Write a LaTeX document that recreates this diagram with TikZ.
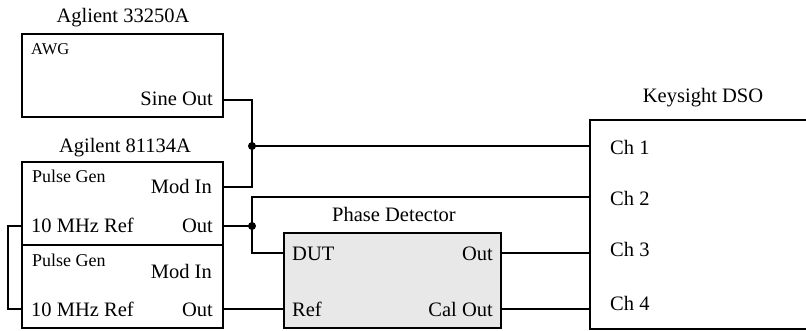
\documentclass[tikz,border=0pt]{standalone}
\usepackage{fontspec}
\setmainfont{Liberation Serif}
\definecolor{pdgray}{HTML}{E8E8E8}
\begin{document}
\begin{tikzpicture}[x=1pt,y=-1pt,
  box/.style={draw,line width=1.8pt,inner sep=0pt,outer sep=0pt},
  wire/.style={line width=1.5pt},
  lbl/.style={inner sep=0pt,font=\fontsize{20.5}{24}\selectfont},
  slbl/.style={inner sep=0pt,font=\fontsize{18}{21}\selectfont},
  tlbl/.style={inner sep=0pt,font=\fontsize{16.5}{19}\selectfont},
  dot/.style={circle,fill,inner sep=0pt,minimum size=8pt}]
\useasboundingbox (0,0) rectangle (806,331);
\clip (0,0) rectangle (806,331);
% boxes
\node[box,minimum width=201pt,minimum height=83pt] (awg) at (122.5,75.5) {};
\node[box,minimum width=201pt,minimum height=83pt] (pg1) at (122.5,203.5) {};
\node[box,minimum width=201pt,minimum height=83pt] (pg2) at (122.5,286.5) {};
\node[box,fill=pdgray,minimum width=217pt,minimum height=95pt] (pd) at (392.5,280.5) {};
\node[box,minimum width=240pt,minimum height=209pt] (dso) at (710,224.5) {};
% titles
\node[lbl,anchor=base] (t1) at (123,23) {Aglient 33250A};
\node[lbl,anchor=base] (t2) at (125,153) {Agilent 81134A};
\node[lbl,anchor=base] (t3) at (394,222) {Phase Detector};
\node[lbl,anchor=base] (t4) at (703,103) {Keysight DSO};
% AWG labels
\node[tlbl,anchor=base west] (awgl) at (31,55) {AWG};
\node[lbl,anchor=base east] (sinel) at (213,106) {Sine Out};
% pulse gen 1
\node[slbl,anchor=base west] (pg1l) at (32,183) {Pulse Gen};
\node[lbl,anchor=base east] (pg1m) at (212,194) {Mod In};
\node[lbl,anchor=base west] (pg1r) at (31,233) {10 MHz Ref};
\node[lbl,anchor=base east] (pg1o) at (213,233) {Out};
% pulse gen 2
\node[slbl,anchor=base west] (pg2l) at (32,266) {Pulse Gen};
\node[lbl,anchor=base east] (pg2m) at (212,278) {Mod In};
\node[lbl,anchor=base west] (pg2r) at (31,316) {10 MHz Ref};
\node[lbl,anchor=base east] (pg2o) at (213,316) {Out};
% phase detector
\node[lbl,anchor=base west] (pddut) at (292,261) {DUT};
\node[lbl,anchor=base east] (pdo) at (493,261) {Out};
\node[lbl,anchor=base west] (pdr) at (292,316) {Ref};
\node[lbl,anchor=base east] (pdc) at (493,316) {Cal Out};
% DSO
\node[lbl,anchor=base west] (c1) at (610,155) {Ch 1};
\node[lbl,anchor=base west] (c2) at (610,206) {Ch 2};
\node[lbl,anchor=base west] (c3) at (610,257) {Ch 3};
\node[lbl,anchor=base west] (c4) at (610,310) {Ch 4};
% ports
\coordinate (awgSine) at (223,100);
\coordinate (pg1Mod) at (223,187);
\coordinate (pg1Out) at (223,226);
\coordinate (pg2Out) at (223,309);
\coordinate (pg1Ref) at (22,226);
\coordinate (pg2Ref) at (22,309);
\coordinate (loopL) at (8,226);
\coordinate (pdDut) at (284,253);
\coordinate (pdRef) at (284,309);
\coordinate (pdOut) at (501,253);
\coordinate (pdCal) at (501,309);
\coordinate (ch1) at (590,146);
\coordinate (ch2) at (590,197);
\coordinate (ch3) at (590,253);
\coordinate (ch4) at (590,309);
\node[dot] (j1) at (252,146) {};
\node[dot] (j2) at (252,226) {};
% wires
\draw[wire] (awgSine) -| (j1.center) |- (pg1Mod);
\draw[wire] (j1.center) -- (ch1);
\draw[wire] (pg1Out) -- (j2.center);
\draw[wire] (j2.center) |- (ch2);
\draw[wire] (j2.center) |- (pdDut);
\draw[wire] (pg2Out) -- (pdRef);
\draw[wire] (pdOut) -- (ch3);
\draw[wire] (pdCal) -- (ch4);
\draw[wire] (pg1Ref) -- (loopL) |- (pg2Ref);
\end{tikzpicture}
\end{document}
